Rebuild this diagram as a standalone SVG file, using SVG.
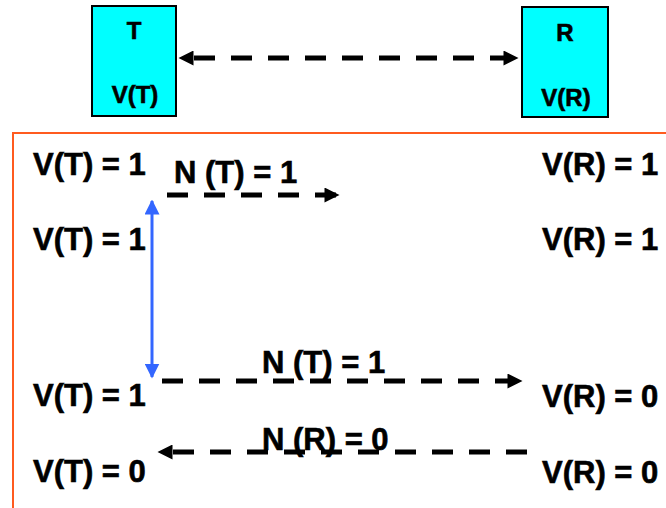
<svg xmlns="http://www.w3.org/2000/svg" width="666" height="508" viewBox="0 0 666 508">
<defs>
<style>
.box{fill:#00FFFF;stroke:#000;stroke-width:2}
.lbl{font-family:"Liberation Sans",Arial,sans-serif;font-weight:bold;fill:#000;stroke:#000;stroke-width:0.6}
.big{font-size:31px}
.small{font-size:24px}
.dash{stroke:#000;stroke-width:5;stroke-dasharray:21 16;fill:none}
.blue{stroke:#3366FF;stroke-width:3;fill:none}
</style>
<marker id="ah" viewBox="0 0 10 10" refX="9" refY="5" markerWidth="3.2" markerHeight="3" orient="auto-start-reverse" markerUnits="strokeWidth">
<path d="M0,0 L10,5 L0,10 z" fill="#000"/>
</marker>
<marker id="bh" viewBox="0 0 10 10" refX="9" refY="5" markerWidth="5" markerHeight="5" orient="auto-start-reverse" markerUnits="strokeWidth">
<path d="M0,0 L10,5 L0,10 z" fill="#3366FF"/>
</marker>
</defs>
<rect x="13" y="133" width="670" height="400" fill="none" stroke="#FF5B1F" stroke-width="2"/>
<g id="nodeT">
<rect class="box" x="92" y="6" width="84" height="110"/>
<text class="lbl small" x="134" y="39" text-anchor="middle">T</text>
<text class="lbl small" x="135" y="103" text-anchor="middle">V(T)</text>
</g>
<g id="nodeR">
<rect class="box" x="522" y="7" width="86" height="110"/>
<text class="lbl small" x="565" y="41" text-anchor="middle">R</text>
<text class="lbl small" x="566" y="106" text-anchor="middle">V(R)</text>
</g>
<g id="labels">
<text class="lbl big" x="33" y="175">V(T) = 1</text>
<text class="lbl big" x="33" y="250">V(T) = 1</text>
<text class="lbl big" x="33" y="406">V(T) = 1</text>
<text class="lbl big" x="33" y="482">V(T) = 0</text>
<text class="lbl big" x="542" y="175">V(R) = 1</text>
<text class="lbl big" x="542" y="250">V(R) = 1</text>
<text class="lbl big" x="542" y="407">V(R) = 0</text>
<text class="lbl big" x="542" y="483">V(R) = 0</text>
<text class="lbl big" x="174" y="183">N (T) = 1</text>
<text class="lbl big" x="262" y="373">N (T) = 1</text>
<text class="lbl big" x="262" y="450">N (R) = 0</text>
</g>
<g id="connectors">
<line class="dash" x1="180" y1="58" x2="517" y2="58" marker-start="url(#ah)" marker-end="url(#ah)" stroke-dasharray="20 16" stroke-dashoffset="-14"/>
<line class="dash" x1="167" y1="195" x2="338" y2="195" marker-end="url(#ah)"/>
<line class="dash" x1="162" y1="381" x2="521" y2="381" marker-end="url(#ah)"/>
<line class="dash" x1="527" y1="452" x2="159" y2="452" marker-end="url(#ah)"/>
<line class="blue" x1="152" y1="201" x2="152" y2="377" marker-start="url(#bh)" marker-end="url(#bh)"/>
</g>
</svg>
